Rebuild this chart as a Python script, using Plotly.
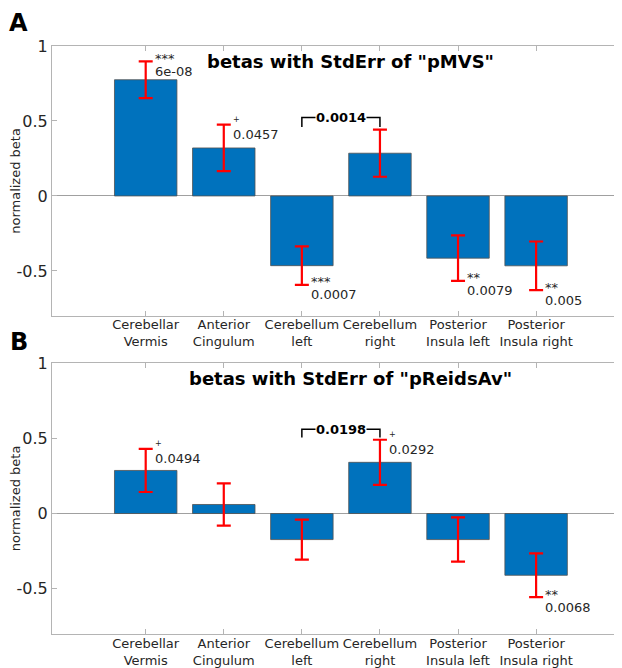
import plotly.graph_objects as go

# ---------------- data ----------------
regions = ["Cerebellar<br>Vermis", "Anterior<br>Cingulum", "Cerebellum<br>left",
           "Cerebellum<br>right", "Posterior<br>Insula left", "Posterior<br>Insula right"]
positions = [1, 2, 3, 4, 5, 6]

beta_A = [0.775, 0.32, -0.465, 0.285, -0.415, -0.466]
err_A = [0.122, 0.155, 0.128, 0.157, 0.152, 0.162]
beta_B = [0.286, 0.06, -0.173, 0.34, -0.173, -0.41]
err_B = [0.143, 0.14, 0.133, 0.15, 0.147, 0.145]

# significance labels: (index, stars, p-value text, side)
sig_A = [(0, "***", "6e-08", "up"), (1, "+", "0.0457", "up"), (2, "***", "0.0007", "down"),
         (4, "**", "0.0079", "down"), (5, "**", "0.005", "down")]
sig_B = [(0, "+", "0.0494", "up"), (3, "+", "0.0292", "up"), (5, "**", "0.0068", "down")]

# comparison brackets: (x_left, x_right, y_top, y_end, label)
bracket_A = (3, 4, 0.523, 0.46, "0.0014")
bracket_B = (3, 4, 0.56, 0.505, "0.0198")

titles = ['betas with StdErr of "pMVS"', 'betas with StdErr of "pReidsAv"']
panel_labels = ["A", "B"]
y_ticks = [-0.5, 0, 0.5, 1]
y_tick_text = ["-0.5", "0", "0.5", "1"]

# ---------------- figure ----------------
FONT = "DejaVu Sans"
TXT = "#262626"
BAR = "#0072BD"

fig = go.Figure()
panels = [(beta_A, err_A, sig_A, bracket_A, "x", "y"),
          (beta_B, err_B, sig_B, bracket_B, "x2", "y2")]

for beta, err, sig, br, xa, ya in panels:
    fig.add_trace(go.Bar(
        x=positions, y=beta, width=0.8, xaxis=xa, yaxis=ya,
        marker=dict(color=BAR, line=dict(color="#505050", width=0.8)),
        error_y=dict(type="data", array=err, visible=True, color="#FF0000",
                     thickness=2.2, width=7),
        showlegend=False, hoverinfo="skip"))
    for idx, stars, ptxt, side in sig:
        cap = beta[idx] + err[idx] if side == "up" else beta[idx] - err[idx]
        xs = positions[idx] + 0.09
        if stars == "+":
            fig.add_annotation(x=xs, y=cap, xref=xa, yref=ya, text="+", showarrow=False,
                               xanchor="left", yanchor="middle", yshift=5,
                               font=dict(family=FONT, size=8, color=TXT))
        else:
            fig.add_annotation(x=xs, y=cap, xref=xa, yref=ya, text=stars, showarrow=False,
                               xanchor="left", yanchor="middle", yshift=3,
                               font=dict(family=FONT, size=13, color=TXT))
        fig.add_annotation(x=xs, y=cap, xref=xa, yref=ya, text=ptxt, showarrow=False,
                           xanchor="left", yanchor="middle", yshift=-10,
                           font=dict(family=FONT, size=13, color=TXT))
    xl, xr, yt, ye, lab = br
    fig.add_shape(type="path", xref=xa, yref=ya,
                  path=f"M {xl},{ye} L {xl},{yt} L {xr},{yt} L {xr},{ye}",
                  line=dict(color="black", width=1.5))
    fig.add_annotation(x=(xl + xr) / 2, y=yt, xref=xa, yref=ya, text=f"<b>{lab}</b>",
                       showarrow=False, xanchor="center", yanchor="middle", yshift=0,
                       bgcolor="white", borderpad=0,
                       font=dict(family=FONT, size=13, color="black"))

# titles and panel labels (paper coords)
title_pos = [0.973, 0.434]
label_pos = [1.039, 0.497]
for t, ty, pl, ly in zip(titles, title_pos, panel_labels, label_pos):
    fig.add_annotation(x=0.524, y=ty, xref="paper", yref="paper", text=f"<b>{t}</b>",
                       showarrow=False, xanchor="center", yanchor="middle",
                       font=dict(family=FONT, size=18, color="black"))
    fig.add_annotation(x=-0.058, y=ly, xref="paper", yref="paper", text=f"<b>{pl}</b>",
                       showarrow=False, xanchor="center", yanchor="middle",
                       font=dict(family=FONT, size=24, color="black"))

xaxis_common = dict(range=[-0.2, 7.1], tickvals=positions, ticktext=regions,
                    showline=True, linecolor="#b4b4b4", linewidth=1, mirror="ticks",
                    ticks="inside", ticklen=5, tickcolor="#b4b4b4", showgrid=False,
                    zeroline=False, tickfont=dict(family=FONT, size=13, color=TXT),
                    ticklabelstandoff=-3, fixedrange=True)
yaxis_common = dict(range=[-0.8, 1], tickvals=y_ticks, ticktext=y_tick_text,
                    showline=True, linecolor="#b4b4b4", linewidth=1, mirror=False,
                    ticks="inside", ticklen=5, tickcolor="#b4b4b4", showgrid=False,
                    zeroline=True, zerolinecolor="#a0a0a0", zerolinewidth=1,
                    tickfont=dict(family=FONT, size=16, color=TXT),
                    title=dict(text="normalized beta", standoff=4,
                               font=dict(family=FONT, size=13, color=TXT)),
                    fixedrange=True)

fig.update_layout(
    width=622, height=668,
    margin=dict(l=44, r=8, t=38, b=42, autoexpand=False),
    paper_bgcolor="white", plot_bgcolor="white",
    xaxis=dict(domain=[0, 1], anchor="y", **xaxis_common),
    yaxis=dict(domain=[0.541, 1], anchor="x", **yaxis_common),
    xaxis2=dict(domain=[0, 1], anchor="y2", **xaxis_common),
    yaxis2=dict(domain=[0, 0.461], anchor="x2", **yaxis_common),
    bargap=0.2,
)

fig.write_html("out.html")
